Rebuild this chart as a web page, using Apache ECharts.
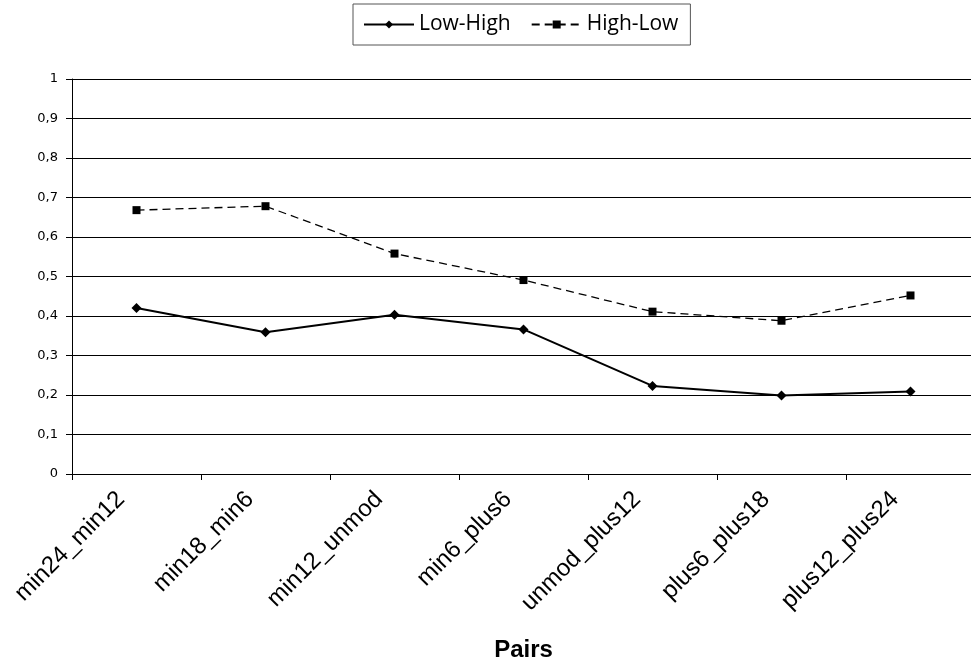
<!DOCTYPE html>
<html>
<head>
<meta charset="utf-8">
<script src="https://cdn.jsdelivr.net/npm/echarts@6/dist/echarts.min.js"></script>
<style>
  html, body { margin: 0; padding: 0; background: #fff; }
  #chart { width: 971px; height: 663px; }
</style>
</head>
<body>
<div id="chart"></div>
<script>
const categories = ['min24_min12', 'min18_min6', 'min12_unmod', 'min6_plus6', 'unmod_plus12', 'plus6_plus18', 'plus12_plus24']
const lowHigh = [0.42, 0.359, 0.403, 0.366, 0.223, 0.199, 0.209]
const highLow = [0.668, 0.678, 0.558, 0.491, 0.411, 0.388, 0.452]
const yTicks = [0, 0.1, 0.2, 0.3, 0.4, 0.5, 0.6, 0.7, 0.8, 0.9, 1]

const chart = echarts.init(document.getElementById('chart'))
chart.setOption({
  animation: false,
  backgroundColor: '#fff',
  grid: { left: 72, top: 79, width: 903, height: 395, outerBoundsMode: 'none', containLabel: false },
  legend: {
    top: 4,
    left: 353,
    itemWidth: 50,
    itemHeight: 10,
    itemGap: 20,
    padding: [10, 12, 10, 10],
    borderColor: '#555',
    borderWidth: 1,
    textStyle: { fontFamily: 'Open Sans', fontSize: 21, color: '#000' },
    data: ['Low-High', 'High-Low']
  },
  xAxis: {
    type: 'category',
    data: categories,
    name: 'Pairs',
    nameLocation: 'middle',
    nameGap: 164,
    nameTextStyle: { fontFamily: 'Liberation Sans', fontSize: 24, fontWeight: 'bold', color: '#000' },
    axisLine: { lineStyle: { color: '#000', width: 1 } },
    axisTick: { show: true, length: 6, lineStyle: { color: '#000' } },
    axisLabel: {
      rotate: 45,
      margin: 6,
      padding: [0, 22, 0, 0],
      fontFamily: 'Liberation Sans',
      fontSize: 24,
      color: '#000'
    }
  },
  yAxis: {
    type: 'value',
    min: 0,
    max: 1,
    interval: 0.1,
    axisLine: { show: true, lineStyle: { color: '#000', width: 1 } },
    axisTick: { show: true, length: 6, lineStyle: { color: '#000' } },
    splitLine: { lineStyle: { color: '#000', width: 1 } },
    axisLabel: {
      margin: 14,
      fontFamily: 'DejaVu Sans',
      fontSize: 13,
      color: '#000',
      formatter: v => {
        const t = yTicks.find(x => Math.abs(x - v) < 1e-9)
        return String(t !== undefined ? t : v).replace('.', ',')
      }
    }
  },
  series: [
    {
      name: 'Low-High',
      type: 'line',
      data: lowHigh,
      symbol: 'diamond',
      symbolSize: 10,
      itemStyle: { color: '#000' },
      lineStyle: { color: '#000', width: 2 }
    },
    {
      name: 'High-Low',
      type: 'line',
      data: highLow,
      symbol: 'rect',
      symbolSize: 8,
      itemStyle: { color: '#000' },
      lineStyle: { color: '#000', width: 1.3, type: [8, 5] }
    }
  ]
})
</script>
</body>
</html>
